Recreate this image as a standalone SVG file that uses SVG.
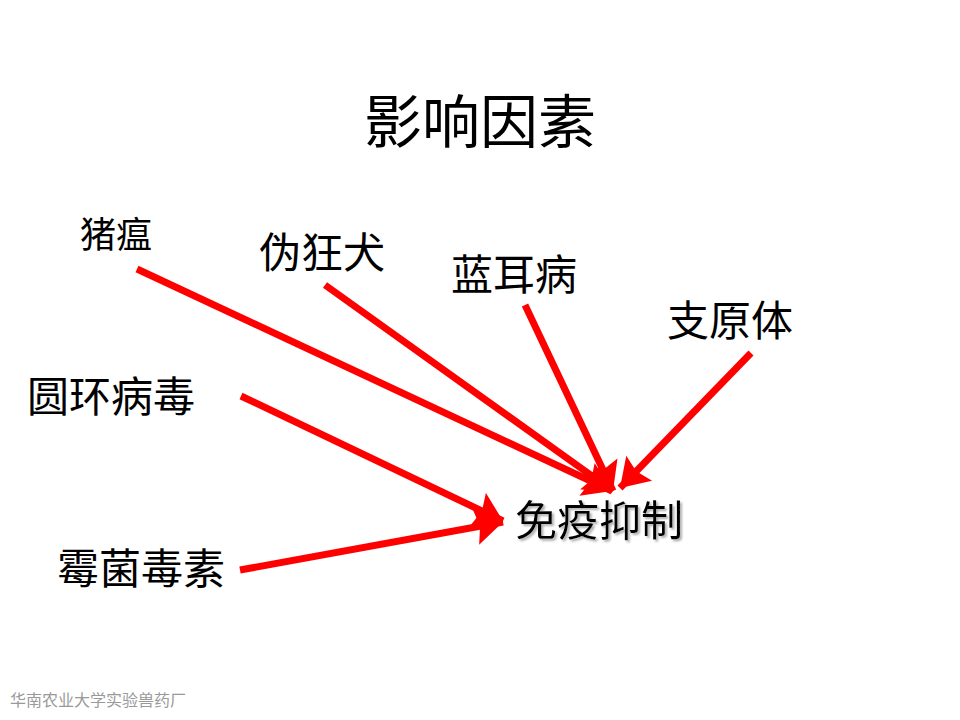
<svg xmlns="http://www.w3.org/2000/svg" width="960" height="720" viewBox="0 0 960 720">
<style>
.t{font-family:"Liberation Serif","Noto Sans CJK SC",serif;fill:#000}
.l{font-size:42px}
.c{stroke:#ff0000;stroke-width:7;fill:none}
</style>
<defs>
<marker id="ah" markerUnits="userSpaceOnUse" markerWidth="30" markerHeight="36" viewBox="0 0 26 34" refX="26" refY="17" orient="auto">
<polygon points="0,0 26,17 0,34 4,17" fill="#ff0000"/>
</marker>
<filter id="sh" x="-10%" y="-20%" width="130%" height="150%">
<feDropShadow dx="2" dy="2" stdDeviation="0.8" flood-color="#999" flood-opacity="0.8"/>
</filter>
</defs>
<rect width="960" height="720" fill="#fff"/>
<g id="title"><text class="t" x="480" y="143" font-size="58" text-anchor="middle">影响因素</text></g>
<g id="connectors">
<line class="c" x1="137" y1="269" x2="612" y2="491" marker-end="url(#ah)"/>
<line class="c" x1="325" y1="285" x2="613" y2="491" marker-end="url(#ah)"/>
<line class="c" x1="525" y1="305" x2="613" y2="491" marker-end="url(#ah)"/>
<line class="c" x1="751" y1="353" x2="620" y2="488" marker-end="url(#ah)"/>
<line class="c" x1="241" y1="396" x2="503" y2="521" marker-end="url(#ah)"/>
<line class="c" x1="240" y1="570" x2="503" y2="522" marker-end="url(#ah)"/>
</g>
<g id="n1"><text class="t" x="80" y="248" font-size="36">猪瘟</text></g>
<g id="n2"><text class="t l" x="259" y="268">伪狂犬</text></g>
<g id="n3"><text class="t l" x="451" y="290">蓝耳病</text></g>
<g id="n4"><text class="t l" x="667" y="336">支原体</text></g>
<g id="n5"><text class="t l" x="27" y="412">圆环病毒</text></g>
<g id="n6"><text class="t l" x="57" y="584">霉菌毒素</text></g>
<g id="target"><text class="t l" x="515" y="536" filter="url(#sh)">免疫抑制</text></g>
<g id="footer"><text x="10" y="706" font-size="16" fill="#999" font-family="'Noto Sans CJK SC',sans-serif">华南农业大学实验兽药厂</text></g>
</svg>
